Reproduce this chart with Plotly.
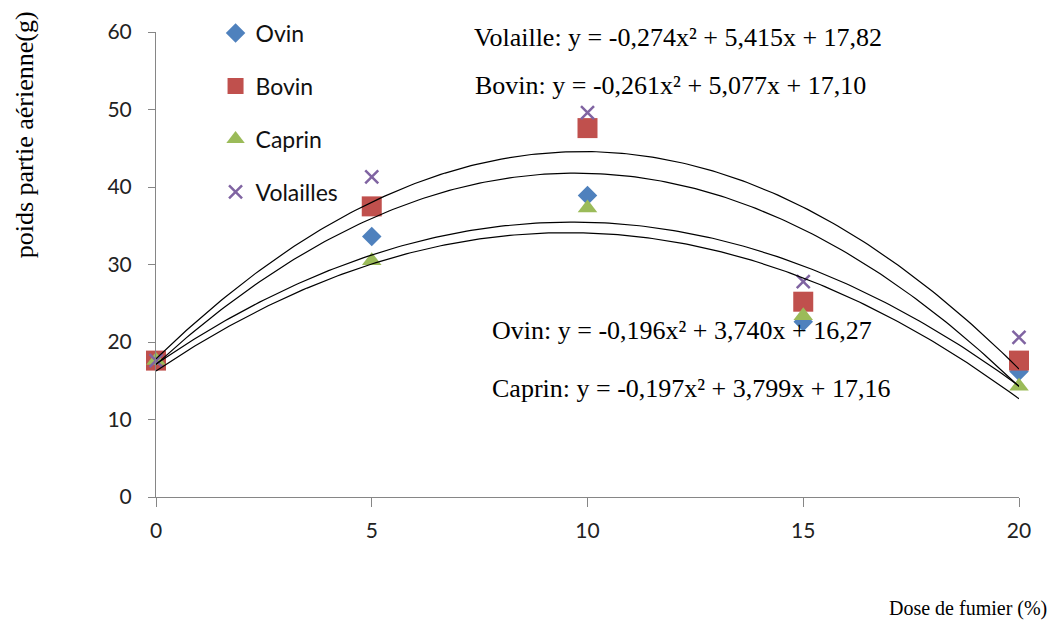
import numpy as np
import plotly.graph_objects as go

# ---------------- data ----------------
doses = [0, 5, 10, 15, 20]
ovin = [17.6, 33.6, 38.9, 22.6, 16.2]
bovin = [17.6, 37.5, 47.6, 25.2, 17.6]
caprin = [17.6, 30.5, 37.3, 23.4, 14.3]
volailles = [17.6, 41.3, 49.6, 27.8, 20.6]

# trend-line coefficients as printed on the chart (a, b, c) for y = a x^2 + b x + c
coef_volaille = [-0.274, 5.415, 17.82]
coef_bovin = [-0.261, 5.077, 17.10]
coef_ovin = [-0.196, 3.740, 16.27]
coef_caprin = [-0.197, 3.799, 17.16]

eq_labels = [
    "Volaille: y = -0,274x² + 5,415x + 17,82",
    "Bovin: y = -0,261x² + 5,077x + 17,10",
    "Ovin: y = -0,196x² + 3,740x + 16,27",
    "Caprin: y = -0,197x² + 3,799x + 17,16",
]
y_ticks = [0, 10, 20, 30, 40, 50, 60]
x_ticks = [0, 5, 10, 15, 20]

# ---------------- figure ----------------
SANS = "Lato"
SERIF = "Liberation Serif"
fig = go.Figure()

series = [
    ("Ovin", ovin, "#4F81BD", "diamond", 15, "legend"),
    ("Bovin", bovin, "#C0504D", "square", 20, "legend2"),
    ("Caprin", caprin, "#9BBB59", "triangle-up", 17, "legend3"),
    ("Volailles", volailles, "#8064A2", "x-thin", 13, "legend4"),
]
for name, vals, col, sym, size, lg in series:
    line = dict(width=2.5, color=col) if sym == "x-thin" else dict(width=0)
    fig.add_trace(go.Scatter(
        x=doses, y=vals, mode="markers", name=name, legend=lg,
        marker=dict(symbol=sym, size=size, color=col, line=line),
        cliponaxis=False,
    ))

xs = np.linspace(doses[0], doses[-1], 201)
for coef in [coef_volaille, coef_bovin, coef_ovin, coef_caprin]:
    fig.add_trace(go.Scatter(
        x=xs, y=np.polyval(coef, xs), mode="lines",
        line=dict(color="black", width=1.2), showlegend=False,
        hoverinfo="skip", cliponaxis=False,
    ))

legend_y = [0.998, 0.884, 0.770, 0.656]
common_leg = dict(x=0.069, xanchor="left", yanchor="middle",
                  bgcolor="rgba(0,0,0,0)", font=dict(family=SANS, size=23, color="#111"),
                  itemsizing="trace")
fig.update_layout(
    legend=dict(y=legend_y[0], **common_leg),
    legend2=dict(y=legend_y[1], **common_leg),
    legend3=dict(y=legend_y[2], **common_leg),
    legend4=dict(y=legend_y[3], **common_leg),
)

eq_pos = [(0.366, 0.989), (0.367, 0.886), (0.387, 0.359), (0.387, 0.234)]
for txt, (px, py) in zip(eq_labels, eq_pos):
    fig.add_annotation(x=px, y=py, xref="paper", yref="paper", text=txt,
                       showarrow=False, xanchor="left", yanchor="middle",
                       font=dict(family=SERIF, size=26, color="black"))

fig.add_annotation(x=-0.153, y=0.78, xref="paper", yref="paper",
                   text="poids partie aérienne(g)", textangle=-90, showarrow=False,
                   xanchor="center", yanchor="middle",
                   font=dict(family=SERIF, size=26, color="black"))
fig.add_annotation(x=0.941, y=-0.239, xref="paper", yref="paper",
                   text="Dose de fumier (%)", showarrow=False,
                   xanchor="center", yanchor="middle",
                   font=dict(family=SERIF, size=20, color="black"))

axis_col = "#868686"
fig.update_xaxes(range=[0, 20], tickvals=x_ticks, ticktext=[str(v) for v in x_ticks],
                 showgrid=False, zeroline=False, showline=True, linecolor=axis_col,
                 linewidth=1, ticks="outside", ticklen=9, tickcolor=axis_col,
                 tickfont=dict(family=SANS, size=21, color="#222"), ticklabelstandoff=6)
fig.update_yaxes(range=[0, 60], tickvals=y_ticks, ticktext=[str(v) for v in y_ticks],
                 showgrid=False, zeroline=False, showline=True, linecolor=axis_col,
                 linewidth=1, ticks="outside", ticklen=7, tickcolor=axis_col,
                 tickfont=dict(family=SANS, size=21, color="#222"), ticklabelstandoff=12)

# the page adds an 8px body margin, so the figure is sized/offset to fit the window
fig.update_layout(
    width=1052, height=613,
    margin=dict(l=148, r=41, t=24, b=124, autoexpand=False),
    plot_bgcolor="white", paper_bgcolor="white",
    hovermode=False,
)

fig.write_html("out.html")
